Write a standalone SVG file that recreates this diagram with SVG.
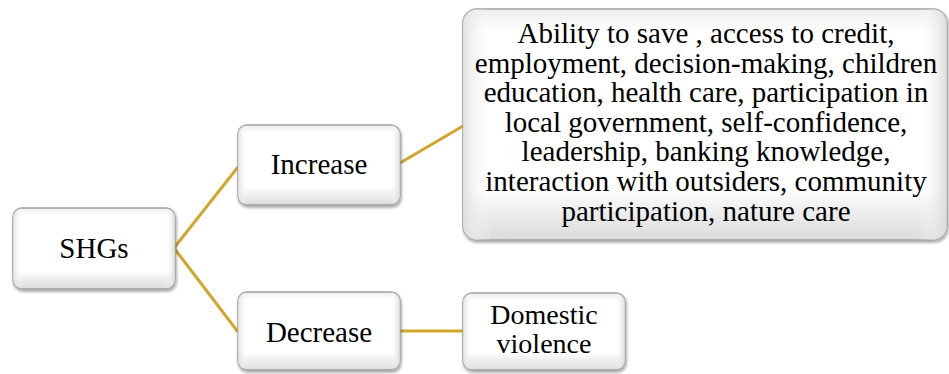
<svg xmlns="http://www.w3.org/2000/svg" width="949" height="374" viewBox="0 0 949 374">
  <defs>
    <linearGradient id="bevel" x1="0" y1="0" x2="0" y2="1">
      <stop offset="0" stop-color="#eeeeee"/>
      <stop offset="0.1" stop-color="#ffffff"/>
      <stop offset="0.78" stop-color="#ffffff"/>
      <stop offset="0.86" stop-color="#f0f0f0"/>
      <stop offset="1" stop-color="#dcdcdc"/>
    </linearGradient>
    <linearGradient id="side" x1="0" y1="0" x2="1" y2="0">
      <stop offset="0" stop-color="#dedede" stop-opacity="0.9"/>
      <stop offset="0.06" stop-color="#ffffff" stop-opacity="0"/>
      <stop offset="0.94" stop-color="#ffffff" stop-opacity="0"/>
      <stop offset="1" stop-color="#d8d8d8" stop-opacity="0.9"/>
    </linearGradient>
    <filter id="shadow" x="-10%" y="-10%" width="120%" height="125%">
      <feGaussianBlur in="SourceAlpha" stdDeviation="1.5"/>
      <feOffset dx="1" dy="2" result="b"/>
      <feComponentTransfer><feFuncA type="linear" slope="0.35"/></feComponentTransfer>
      <feMerge><feMergeNode/><feMergeNode in="SourceGraphic"/></feMerge>
    </filter>
  </defs>
  <style>
    .box { fill: url(#bevel); stroke: #a0a0a0; stroke-width: 1.5; filter: url(#shadow); }
    .sheen { fill: url(#side); stroke: none; }
    text { font-family: "Liberation Serif", "Times New Roman", serif; font-size: 29px; fill: #000; text-anchor: middle; }
    .tight { font-size: 28px; }
    .link { stroke: #d1a62a; stroke-width: 3; fill: none; }
  </style>

  <g id="connectors">
    <polyline class="link" points="238,167 174,248 238,332"/>
    <line class="link" x1="400" y1="163" x2="463" y2="126"/>
    <line class="link" x1="400" y1="331" x2="463" y2="331"/>
  </g>

  <g id="node-shgs">
    <rect class="box" x="13" y="208" width="162" height="81" rx="9"/>
    <rect class="sheen" x="13" y="208" width="162" height="81" rx="9"/>
    <text x="94" y="258">SHGs</text>
  </g>

  <g id="node-increase">
    <rect class="box" x="238" y="125" width="162" height="80" rx="9"/>
    <rect class="sheen" x="238" y="125" width="162" height="80" rx="9"/>
    <text x="319" y="174">Increase</text>
  </g>

  <g id="node-decrease">
    <rect class="box" x="238" y="292" width="162" height="78" rx="9"/>
    <rect class="sheen" x="238" y="292" width="162" height="78" rx="9"/>
    <text x="319" y="342">Decrease</text>
  </g>

  <g id="node-benefits">
    <rect class="box" x="463" y="9" width="484" height="231" rx="14"/>
    <rect class="sheen" x="463" y="9" width="484" height="231" rx="14"/>
    <text x="706" y="43">Ability to save , access to credit,</text>
    <text x="706" y="72.6">employment, decision-making, children</text>
    <text x="706" y="102.2">education, health care, participation in</text>
    <text x="706" y="131.8">local government, self-confidence,</text>
    <text x="706" y="161.4">leadership, banking knowledge,</text>
    <text x="706" y="191">interaction with outsiders, community</text>
    <text x="706" y="220.6">participation, nature care</text>
  </g>

  <g id="node-domestic">
    <rect class="box" x="463" y="293" width="162" height="77" rx="9"/>
    <rect class="sheen" x="463" y="293" width="162" height="77" rx="9"/>
    <text class="tight" x="544" y="324">Domestic</text>
    <text class="tight" x="544" y="353">violence</text>
  </g>
</svg>
